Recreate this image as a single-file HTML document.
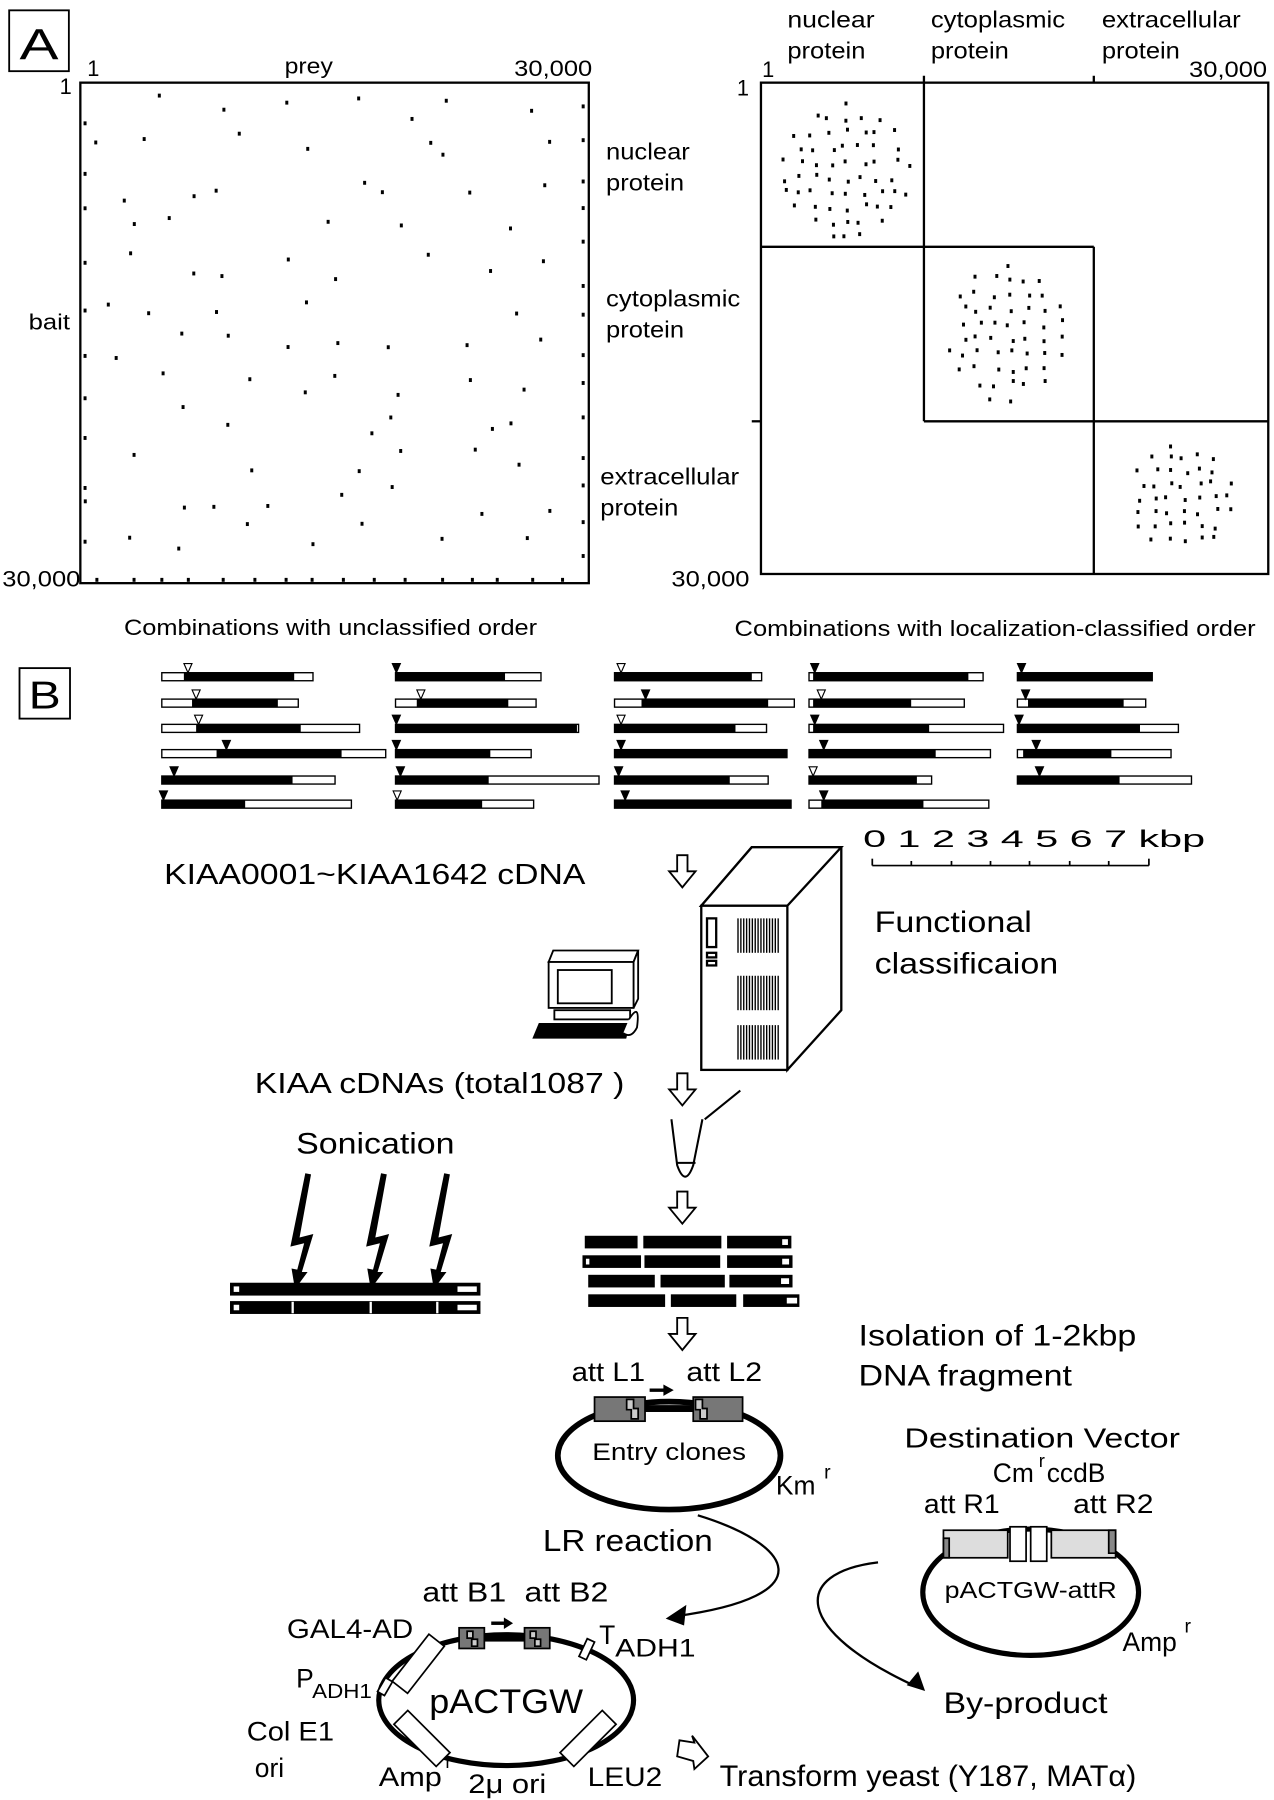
<!DOCTYPE html>
<html><head><meta charset="utf-8"><style>
html,body{margin:0;padding:0;background:#fff}
svg{display:block}
text{font-family:"Liberation Sans",Arial,sans-serif;fill:#000}
</style></head><body>
<svg id="s" xmlns="http://www.w3.org/2000/svg" width="1274" height="1800" viewBox="0 0 1110 1568" preserveAspectRatio="none">
<rect width="1110" height="1568" fill="#fff"/>
<!-- Panel A -->
<rect x="8" y="9" width="52" height="53" fill="none" stroke="#000" stroke-width="1.6"/>
<text x="34" y="52" font-size="38" text-anchor="middle" textLength="34" lengthAdjust="spacingAndGlyphs">A</text>
<rect x="70" y="72" width="443" height="436" fill="none" stroke="#000" stroke-width="2"/>
<text x="76" y="66" font-size="19">1</text>
<text x="248" y="64" font-size="19" textLength="42" lengthAdjust="spacingAndGlyphs">prey</text>
<text x="448" y="66" font-size="19" textLength="68" lengthAdjust="spacingAndGlyphs">30,000</text>
<text x="52" y="82" font-size="19">1</text>
<text x="25" y="287" font-size="19" textLength="36" lengthAdjust="spacingAndGlyphs">bait</text>
<text x="2" y="511" font-size="19" textLength="68" lengthAdjust="spacingAndGlyphs">30,000</text>
<text x="528" y="139" font-size="20" textLength="73" lengthAdjust="spacingAndGlyphs">nuclear</text>
<text x="528" y="166" font-size="20" textLength="68" lengthAdjust="spacingAndGlyphs">protein</text>
<text x="528" y="267" font-size="20" textLength="117" lengthAdjust="spacingAndGlyphs">cytoplasmic</text>
<text x="528" y="294" font-size="20" textLength="68" lengthAdjust="spacingAndGlyphs">protein</text>
<text x="523" y="422" font-size="20" textLength="121" lengthAdjust="spacingAndGlyphs">extracellular</text>
<text x="523" y="449" font-size="20" textLength="68" lengthAdjust="spacingAndGlyphs">protein</text>
<text x="108" y="553" font-size="19" textLength="360" lengthAdjust="spacingAndGlyphs">Combinations with unclassified order</text>
<text x="640" y="554" font-size="19" textLength="454" lengthAdjust="spacingAndGlyphs">Combinations with localization-classified order</text>
<text x="686" y="24" font-size="20" textLength="76" lengthAdjust="spacingAndGlyphs">nuclear</text>
<text x="686" y="51" font-size="20" textLength="68" lengthAdjust="spacingAndGlyphs">protein</text>
<text x="811" y="24" font-size="20" textLength="117" lengthAdjust="spacingAndGlyphs">cytoplasmic</text>
<text x="811" y="51" font-size="20" textLength="68" lengthAdjust="spacingAndGlyphs">protein</text>
<text x="960" y="24" font-size="20" textLength="121" lengthAdjust="spacingAndGlyphs">extracellular</text>
<text x="960" y="51" font-size="20" textLength="68" lengthAdjust="spacingAndGlyphs">protein</text>
<text x="664" y="67" font-size="19">1</text>
<text x="1036" y="67" font-size="19" textLength="68" lengthAdjust="spacingAndGlyphs">30,000</text>
<text x="642" y="83" font-size="19">1</text>
<text x="585" y="511" font-size="19" textLength="68" lengthAdjust="spacingAndGlyphs">30,000</text>
<g stroke="#000" stroke-width="2" fill="none">
<rect x="663" y="72" width="442" height="428"/>
<line x1="805" y1="66" x2="805" y2="367"/>
<line x1="953" y1="66" x2="953" y2="72"/>
<line x1="953" y1="215" x2="953" y2="500"/>
<line x1="663" y1="215" x2="953" y2="215"/>
<line x1="805" y1="367" x2="1105" y2="367"/>
<line x1="655" y1="367" x2="663" y2="367"/>
</g>
<g id="dots"></g>
<!-- Panel B -->
<rect x="17" y="582" width="44" height="44" fill="none" stroke="#000" stroke-width="1.6"/>
<text x="39" y="617" font-size="34" text-anchor="middle" textLength="28" lengthAdjust="spacingAndGlyphs">B</text>
<g id="bars"></g>
<g stroke="#000" stroke-width="1.5">
<line x1="760" y1="754" x2="1001" y2="754"/>
<line x1="760" y1="748" x2="760" y2="754"/><line x1="794" y1="750" x2="794" y2="754"/><line x1="829" y1="750" x2="829" y2="754"/><line x1="863" y1="750" x2="863" y2="754"/><line x1="897" y1="750" x2="897" y2="754"/><line x1="932" y1="750" x2="932" y2="754"/><line x1="966" y1="750" x2="966" y2="754"/><line x1="1001" y1="748" x2="1001" y2="754"/>
</g>
<text x="752" y="738" font-size="21" textLength="298" lengthAdjust="spacingAndGlyphs">0  1  2  3  4  5  6  7 kbp</text>
<text x="143" y="770" font-size="25" textLength="367" lengthAdjust="spacingAndGlyphs">KIAA0001~KIAA1642 cDNA</text>
<text x="762" y="812" font-size="26" textLength="137" lengthAdjust="spacingAndGlyphs">Functional</text>
<text x="762" y="848" font-size="26" textLength="160" lengthAdjust="spacingAndGlyphs">classificaion</text>
<text x="222" y="952" font-size="25" textLength="322" lengthAdjust="spacingAndGlyphs">KIAA cDNAs (total1087 )</text>
<text x="258" y="1005" font-size="26" textLength="138" lengthAdjust="spacingAndGlyphs">Sonication</text>
<g fill="#fff" stroke="#000" stroke-width="1.6">
<path d="M590 745 h9 v14 h7 l-11.5 14 l-11.5 -14 h7 z"/>
<path d="M590 935 h9 v14 h7 l-11.5 14 l-11.5 -14 h7 z"/>
<path d="M590 1038 h9 v14 h7 l-11.5 14 l-11.5 -14 h7 z"/>
<path d="M590 1148 h9 v14 h7 l-11.5 14 l-11.5 -14 h7 z"/>
</g>
<g stroke="#000" stroke-width="2" fill="#fff">
<path d="M611 789 L655 738 L733 738 L733 880 L686 932 L686 789 Z"/>
<path d="M611 789 L655 738 L733 738 L686 789 Z"/>
<rect x="611" y="789" width="75" height="143"/>
<rect x="616" y="800" width="8" height="25"/>
<rect x="616" y="830" width="8" height="4"/>
<rect x="616" y="837" width="8" height="4"/>
</g>
<g id="vents"></g>
<g stroke="#000" stroke-width="1.6" fill="#fff">
<path d="M478 838 L482 828 L556 828 L552 838 Z"/>
<path d="M552 838 L556 828 L556 870 L552 878 Z"/>
<rect x="478" y="838" width="74" height="40"/>
<rect x="486" y="845" width="47" height="29"/>
<rect x="483" y="880" width="66" height="8"/>
<path d="M470 892 L548 892 L545 904 L465 904 Z" fill="#000"/>
<path d="M548 888 Q558 872 555 895 Q550 905 543 900"/>
</g>
<g stroke="#000" stroke-width="1.8" fill="none">
<path d="M645 950 L614 975"/>
<path d="M585 975 L590 1015 Q597 1035 604 1015 L612 975"/>
<line x1="589" y1="1013" x2="606" y2="1013"/>
</g>
<g fill="#000">
<path d="M266 1022 L271 1023 L261 1078 L273 1075 L263 1108 L268 1108 L257 1123 L254 1105 L259 1106 L265 1083 L253 1086 Z"/>
<path d="M332 1022 L337 1023 L327 1078 L339 1075 L329 1108 L334 1108 L323 1123 L320 1105 L325 1106 L331 1083 L319 1086 Z"/>
<path d="M387 1022 L392 1023 L382 1078 L394 1075 L384 1108 L389 1108 L378 1123 L375 1105 L380 1106 L386 1083 L374 1086 Z"/>
</g>
<g stroke="#000" stroke-width="1.2">
<rect x="201" y="1118" width="217" height="10" fill="#000"/>
<rect x="203" y="1120" width="6" height="6" fill="#fff"/>
<rect x="398" y="1120" width="18" height="6" fill="#fff"/>
<rect x="201" y="1134" width="217" height="10" fill="#000"/>
<rect x="203" y="1136" width="6" height="6" fill="#fff"/>
<rect x="398" y="1136" width="18" height="6" fill="#fff"/>
<line x1="255" y1="1134" x2="255" y2="1144" stroke="#fff" stroke-width="2"/>
<line x1="323" y1="1134" x2="323" y2="1144" stroke="#fff" stroke-width="2"/>
<line x1="381" y1="1134" x2="381" y2="1144" stroke="#fff" stroke-width="2"/>
</g>
<g fill="#000" stroke="#000" stroke-width="1">
<rect x="510" y="1077" width="45" height="10"/><rect x="561" y="1077" width="67" height="10"/><rect x="634" y="1077" width="55" height="10"/>
<rect x="508" y="1094" width="50" height="10"/><rect x="562" y="1094" width="65" height="10"/><rect x="634" y="1094" width="56" height="10"/>
<rect x="513" y="1111" width="57" height="10"/><rect x="576" y="1111" width="55" height="10"/><rect x="636" y="1111" width="54" height="10"/>
<rect x="513" y="1128" width="66" height="10"/><rect x="585" y="1128" width="56" height="10"/><rect x="648" y="1128" width="48" height="10"/>
</g>
<g fill="#fff" stroke="#000" stroke-width="1">
<rect x="681" y="1079" width="6" height="6"/><rect x="510" y="1096" width="4" height="6"/><rect x="681" y="1096" width="7" height="6"/>
<rect x="680" y="1113" width="8" height="6"/><rect x="685" y="1130" width="10" height="6"/>
</g>
<text x="748" y="1172" font-size="26" textLength="242" lengthAdjust="spacingAndGlyphs">Isolation of 1-2kbp</text>
<text x="748" y="1207" font-size="26" textLength="186" lengthAdjust="spacingAndGlyphs">DNA fragment</text>
<text x="498" y="1203" font-size="23" textLength="64" lengthAdjust="spacingAndGlyphs">att L1</text>
<text x="598" y="1203" font-size="23" textLength="66" lengthAdjust="spacingAndGlyphs">att L2</text>
<path d="M566 1211 H580" stroke="#000" stroke-width="3"/><path d="M578 1206 L587 1211 L578 1216 Z"/>
<ellipse cx="583" cy="1268" rx="97" ry="47" fill="none" stroke="#000" stroke-width="5"/>
<g stroke="#000" stroke-width="1.5">
<rect x="518" y="1217" width="44" height="21" fill="#777"/>
<rect x="604" y="1217" width="43" height="21" fill="#777"/>
<path d="M546 1219 h6 v8 h4 v9 h-6 v-8 h-4z" fill="#ccc"/>
<path d="M606 1219 h6 v8 h4 v9 h-6 v-8 h-4z" fill="#ccc"/>
</g>
<rect x="562" y="1224" width="42" height="6" fill="#000"/>
<text x="583" y="1272" font-size="21" text-anchor="middle" textLength="134" lengthAdjust="spacingAndGlyphs">Entry clones</text>
<text x="676" y="1302" font-size="23">Km</text><text x="718" y="1288" font-size="17">r</text>
<text x="473" y="1351" font-size="27" textLength="148" lengthAdjust="spacingAndGlyphs">LR reaction</text>
<text x="788" y="1261" font-size="24" textLength="240" lengthAdjust="spacingAndGlyphs">Destination Vector</text>
<text x="865" y="1291" font-size="23">Cm</text><text x="905" y="1278" font-size="16">r</text><text x="912" y="1291" font-size="23">ccdB</text>
<text x="805" y="1318" font-size="23" textLength="66" lengthAdjust="spacingAndGlyphs">att R1</text>
<text x="935" y="1318" font-size="23" textLength="70" lengthAdjust="spacingAndGlyphs">att R2</text>
<ellipse cx="898" cy="1387" rx="94" ry="55" fill="none" stroke="#000" stroke-width="4.5"/>
<g stroke="#000" stroke-width="1.5">
<rect x="822" y="1333" width="56" height="24" fill="#ddd"/>
<rect x="916" y="1333" width="56" height="24" fill="#ddd"/>
<rect x="880" y="1330" width="14" height="30" fill="#fff"/>
<rect x="898" y="1330" width="14" height="30" fill="#fff"/>
<path d="M822 1340 h5 v17 h-5z" fill="#888"/>
<path d="M966 1333 h6 v20 h-6z" fill="#888"/>
</g>
<text x="898" y="1392" font-size="20" text-anchor="middle" textLength="150" lengthAdjust="spacingAndGlyphs">pACTGW-attR</text>
<text x="978" y="1438" font-size="23">Amp</text><text x="1032" y="1422" font-size="17">r</text>
<g fill="none" stroke="#000" stroke-width="2">
<path d="M608 1320 C690 1345 720 1390 588 1408"/>
<path d="M765 1361 C690 1370 690 1420 800 1470"/>
</g>
<path d="M580 1410 L598 1398 L596 1416 Z"/>
<path d="M806 1473 L790 1468 L800 1456 Z"/>
<text x="822" y="1492" font-size="26" textLength="143" lengthAdjust="spacingAndGlyphs">By-product</text>
<ellipse cx="441" cy="1481" rx="111" ry="57" fill="none" stroke="#000" stroke-width="4.5"/>
<text x="368" y="1395" font-size="24" textLength="73" lengthAdjust="spacingAndGlyphs">att B1</text>
<text x="457" y="1395" font-size="24" textLength="73" lengthAdjust="spacingAndGlyphs">att B2</text>
<path d="M428 1414 H440" stroke="#000" stroke-width="3"/><path d="M439 1409 L447 1414 L439 1419 Z"/>
<g stroke="#000" stroke-width="1.5">
<rect x="400" y="1418" width="22" height="18" fill="#777"/>
<rect x="457" y="1418" width="22" height="18" fill="#777"/>
<path d="M407 1421 h5 v7 h4 v6 h-5 v-7 h-4z" fill="#ccc"/>
<path d="M462 1421 h5 v7 h4 v6 h-5 v-7 h-4z" fill="#ccc"/>
<rect x="356" y="1423" width="17" height="52" fill="#fff" transform="rotate(38 364 1449)"/>
<rect x="332" y="1462" width="7" height="14" fill="#fff" transform="rotate(30 335 1469)"/>
<rect x="508" y="1428" width="7" height="17" fill="#fff" transform="rotate(25 511 1436)"/>
<rect x="359" y="1488" width="17" height="52" fill="#fff" transform="rotate(-45 368 1514)"/>
<rect x="504" y="1488" width="17" height="52" fill="#fff" transform="rotate(45 512 1514)"/>
</g>
<rect x="422" y="1424" width="35" height="6" fill="#000"/>
<text x="250" y="1427" font-size="23" textLength="110" lengthAdjust="spacingAndGlyphs">GAL4-AD</text>
<text x="522" y="1432" font-size="23">T</text><text x="536" y="1443" font-size="22" textLength="70" lengthAdjust="spacingAndGlyphs">ADH1</text>
<text x="258" y="1470" font-size="23">P</text><text x="272" y="1479" font-size="18" textLength="52" lengthAdjust="spacingAndGlyphs">ADH1</text>
<text x="441" y="1492" font-size="30" text-anchor="middle" textLength="134" lengthAdjust="spacingAndGlyphs">pACTGW</text>
<text x="215" y="1516" font-size="23" textLength="76" lengthAdjust="spacingAndGlyphs">Col E1</text>
<text x="222" y="1548" font-size="23">ori</text>
<text x="330" y="1556" font-size="23" textLength="55" lengthAdjust="spacingAndGlyphs">Amp</text><text x="388" y="1540" font-size="16">r</text>
<text x="408" y="1562" font-size="23" textLength="68" lengthAdjust="spacingAndGlyphs">2μ ori</text>
<text x="512" y="1556" font-size="23" textLength="65" lengthAdjust="spacingAndGlyphs">LEU2</text>
<path d="M592 1516 L605 1518 L603 1512 L617 1530 L605 1541 L604 1534 L590 1530 Z" fill="#fff" stroke="#000" stroke-width="1.6"/>
<text x="627" y="1556" font-size="26" textLength="363" lengthAdjust="spacingAndGlyphs">Transform yeast (Y187, MATα)</text>
</svg>
<script>
(function(){
var NS="http://www.w3.org/2000/svg";
function el(p,t,a){var e=document.createElementNS(NS,t);for(var k in a)e.setAttribute(k,a[k]);p.appendChild(e);return e;}
var seed=11;function r(){seed=(seed*16807)%2147483647;return seed/2147483647;}
var d=document.getElementById("dots");
function dot(x,y){el(d,"rect",{x:x-1.2,y:y-1.6,width:2.6,height:3.4,fill:"#000"});}
/* left matrix: jittered grid */
for(var gy=0;gy<12;gy++){for(var gx=0;gx<8;gx++){if(r()<0.12)continue;dot(95+gx*52+(r()-0.5)*44,95+gy*34+(r()-0.5)*26);}}
for(var i=0;i<14;i++){dot(508,90+i*30+r()*10);}
for(var i=0;i<16;i++){dot(82+i*27+r()*8,505);}
for(var i=0;i<10;i++){dot(74,100+i*40+r()*12);}
function cl(cx,cy,rx,ry,sx,sy){for(var y=-ry;y<=ry;y+=sy){for(var x=-rx;x<=rx;x+=sx){var xx=x+(r()-0.5)*sx*0.6,yy=y+(r()-0.5)*sy*0.5;if((xx*xx)/(rx*rx)+(yy*yy)/(ry*ry)<=1)dot(cx+xx,cy+yy);}}}
cl(738,150,57,60,14,13);cl(876,290,52,60,14,13);cl(1028,432,48,46,13,12);
var b=document.getElementById("bars");
var rows=[589,612,634,656,679,700];
var cols=[
[[198,225,360,383,230,0],[198,235,340,365,240,0],[198,240,368,440,243,0],[198,265,418,472,277,1],[198,198,358,410,213,1],[198,198,300,430,200,1]],
[[484,484,618,662,485,1],[484,510,622,656,515,0],[484,484,706,708,485,1],[484,484,600,650,485,1],[484,484,598,733,490,1],[484,484,590,653,486,0]],
[[752,752,920,932,760,0],[752,785,940,972,790,1],[752,752,900,938,760,0],[752,752,963,963,760,1],[752,752,893,940,757,1],[752,752,968,968,765,1]],
[[990,995,1185,1203,997,1],[990,995,1115,1180,1005,0],[990,995,1137,1228,997,1],[990,990,1145,1212,1008,1],[990,990,1122,1140,995,0],[990,1005,1130,1210,1008,1]],
[[1245,1245,1410,1410,1250,1],[1245,1258,1375,1402,1255,1],[1245,1245,1395,1442,1247,1],[1245,1252,1360,1433,1268,1],[1245,1245,1370,1458,1272,1]]];
var f=0.712;
cols.forEach(function(c){c.forEach(function(v,j){var y=rows[j];
el(b,"rect",{x:v[0]*f,y:y-3,width:(v[3]-v[0])*f,height:7,fill:"#fff",stroke:"#000","stroke-width":1.2});
el(b,"rect",{x:v[1]*f,y:y-3,width:(v[2]-v[1])*f,height:7,fill:"#000"});
var tx=v[4]*f;el(b,"path",{d:"M"+(tx-3.5)+" "+(y-11)+" L"+(tx+3.5)+" "+(y-11)+" L"+tx+" "+(y-3)+" Z",fill:v[5]?"#000":"#fff",stroke:"#000","stroke-width":1});});});
var vg=document.getElementById("vents");
[[800,830],[850,880],[893,923]].forEach(function(s){for(var x=643;x<=679;x+=2.5){el(vg,"line",{x1:x,y1:s[0],x2:x,y2:s[1],stroke:"#000","stroke-width":1.2});}});
})();
</script>
</body></html>
